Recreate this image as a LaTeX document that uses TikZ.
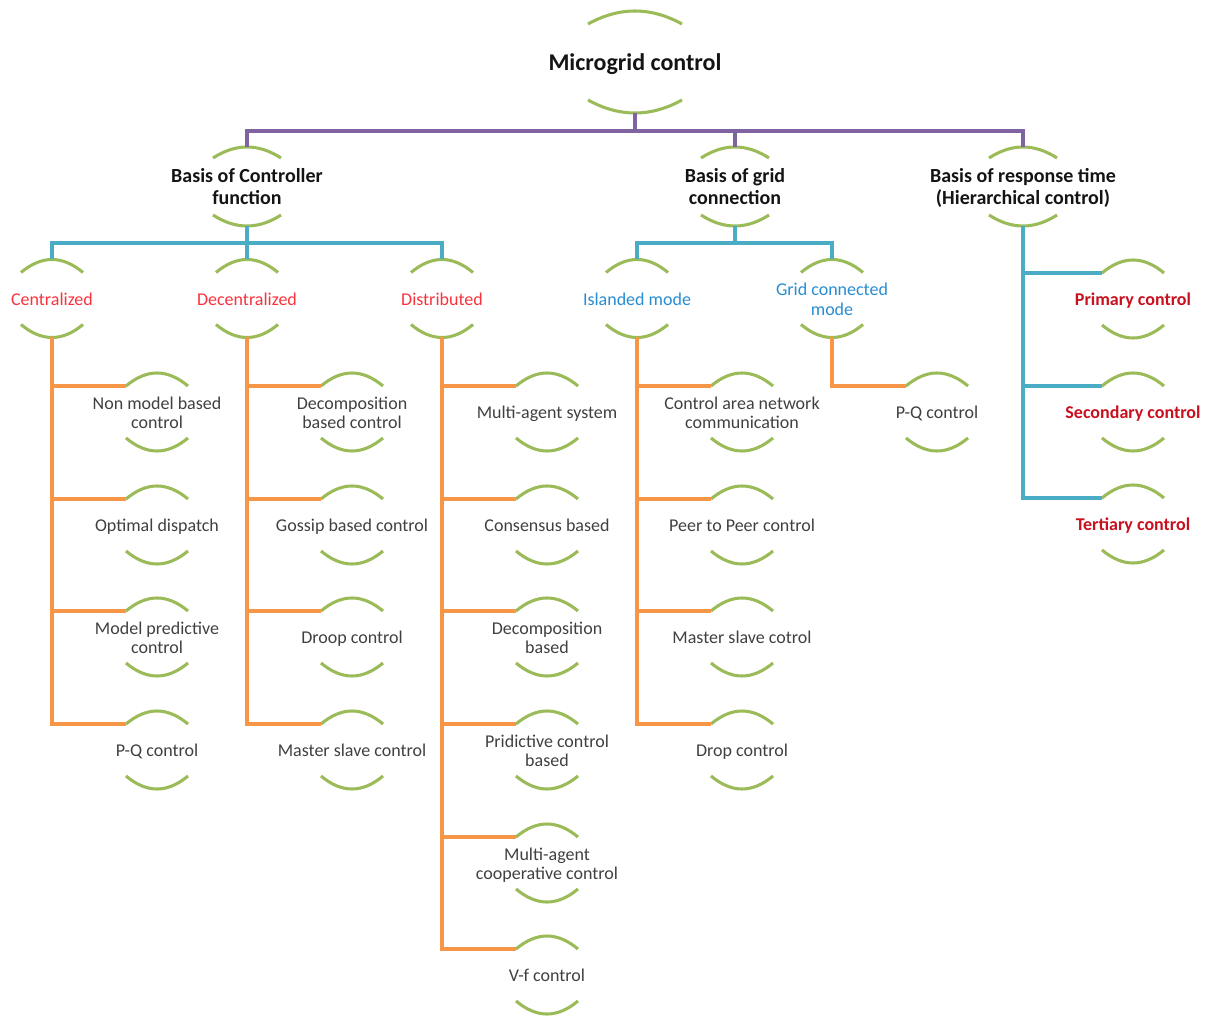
\documentclass[tikz,border=0pt]{standalone}
\usepackage{fontspec}
\setmainfont{Carlito}
\newdimen\pxu \pxu=0.75pt
\definecolor{purp}{RGB}{128,100,162}
\definecolor{bluel}{RGB}{75,172,198}
\definecolor{orng}{RGB}{247,150,70}
\definecolor{grn}{RGB}{155,187,89}
\definecolor{redt}{RGB}{250,50,60}
\definecolor{dredt}{RGB}{200,16,30}
\definecolor{bluet}{RGB}{40,140,210}
\definecolor{leafc}{RGB}{64,64,64}
\definecolor{headc}{RGB}{20,20,20}
\newcommand\ctr[1]{\makebox[0pt]{\raisebox{-3\pxu}[\height][\depth]{\begin{tabular}{@{}c@{}}#1\end{tabular}}}}
\newcommand\brk[4]{%
 \draw[arcst] ([shift={(-#2,-#3)}]#1.center) .. controls ([shift={({-#2/3},{-#3-4/3*(#4-#3)})}]#1.center) and ([shift={({#2/3},{-#3-4/3*(#4-#3)})}]#1.center) .. ([shift={(#2,-#3)}]#1.center);
 \draw[arcst] ([shift={(-#2,#3)}]#1.center) .. controls ([shift={({-#2/3},{#3+4/3*(#4-#3)})}]#1.center) and ([shift={({#2/3},{#3+4/3*(#4-#3)})}]#1.center) .. ([shift={(#2,#3)}]#1.center);
}
\tikzset{
 base/.style={shape=rectangle, inner sep=0pt, outer sep=0pt, minimum width=62\pxu, minimum height=78\pxu},
 leaf/.style={base, text=leafc, font=\fontsize{13.5}{14.5}\selectfont},
 lvlred/.style={base, text=redt, font=\fontsize{13.5}{14.5}\selectfont},
 lvlblue/.style={base, text=bluet, font=\fontsize{13.5}{14.5}\selectfont},
 hier/.style={base, text=dredt, font=\fontsize{13.5}{14.5}\bfseries\selectfont},
 head/.style={base, minimum width=68\pxu, minimum height=79\pxu, text=headc, font=\fontsize{15}{16.5}\bfseries\selectfont},
 rootst/.style={base, minimum width=94\pxu, minimum height=102\pxu, text=headc, font=\fontsize{18}{20}\bfseries\selectfont},
 arcst/.style={draw=grn, line width=2.3pt},
 purpl/.style={draw=purp, line width=2.3pt},
 bluln/.style={draw=bluel, line width=2.3pt},
 orln/.style={draw=orng, line width=2.3pt},
}
\begin{document}
\begin{tikzpicture}[x=0.75pt,y=-0.75pt]
\path[use as bounding box] (0,0) rectangle (1210,1019);
% nodes
\node[rootst] (root) at (635,62) {\ctr{Microgrid control}};
\node[head] (c1) at (247,186.5) {\ctr{Basis of Controller\\function}};
\node[head] (c2) at (735,186.5) {\ctr{Basis of grid\\connection}};
\node[head] (c3) at (1023,186.5) {\ctr{Basis of response time\\(Hierarchical control)}};
\node[lvlred] (cen) at (52,298.5) {\ctr{Centralized}};
\node[lvlred] (dec) at (247,298.5) {\ctr{Decentralized}};
\node[lvlred] (dis) at (442,298.5) {\ctr{Distributed}};
\node[lvlblue] (isl) at (637,298.5) {\ctr{Islanded mode}};
\node[lvlblue] (grc) at (832,298.5) {\ctr{Grid connected\\mode}};
\node[hier] (pri) at (1133,299) {\ctr{Primary control}};
\node[hier] (sec) at (1133,412) {\ctr{Secondary control}};
\node[hier] (ter) at (1133,524) {\ctr{Tertiary control}};
% centralized
\node[leaf] (a1) at (157,412) {\ctr{Non model based\\control}};
\node[leaf] (a2) at (157,525) {\ctr{Optimal dispatch}};
\node[leaf] (a3) at (157,637) {\ctr{Model predictive\\control}};
\node[leaf] (a4) at (157,750) {\ctr{P-Q control}};
% decentralized
\node[leaf] (b1) at (352,412) {\ctr{Decomposition\\based control}};
\node[leaf] (b2) at (352,525) {\ctr{Gossip based control}};
\node[leaf] (b3) at (352,637) {\ctr{Droop control}};
\node[leaf] (b4) at (352,750) {\ctr{Master slave control}};
% distributed
\node[leaf] (d1) at (547,412) {\ctr{Multi-agent system}};
\node[leaf] (d2) at (547,525) {\ctr{Consensus based}};
\node[leaf] (d3) at (547,637) {\ctr{Decomposition\\based}};
\node[leaf] (d4) at (547,750) {\ctr{Pridictive control\\based}};
\node[leaf] (d5) at (547,863) {\ctr{Multi-agent\\cooperative control}};
\node[leaf] (d6) at (547,975) {\ctr{V-f control}};
% islanded
\node[leaf] (e1) at (742,412) {\ctr{Control area network\\communication}};
\node[leaf] (e2) at (742,525) {\ctr{Peer to Peer control}};
\node[leaf] (e3) at (742,637) {\ctr{Master slave cotrol}};
\node[leaf] (e4) at (742,750) {\ctr{Drop control}};
% grid connected
\node[leaf] (f1) at (937,412) {\ctr{P-Q control}};
% arcs
\brk{root}{47}{38}{51}
\foreach \n in {c1,c2,c3} {\brk{\n}{34}{28.5}{39.5}}
\foreach \n in {cen,dec,dis,isl,grc,pri,sec,ter,a1,a2,a3,a4,b1,b2,b3,b4,d1,d2,d3,d4,d5,d6,e1,e2,e3,e4,f1} {\brk{\n}{31}{26}{39}}
% purple connectors
\draw[purpl] (root.south) -- ++(0,18) -| (c1.north);
\draw[purpl] (root.south) -- ++(0,18) -| (c2.north);
\draw[purpl] (root.south) -- ++(0,18) -| (c3.north);
% blue connectors
\foreach \n in {cen,dec,dis} {\draw[bluln] (c1.south) -- ++(0,17) -| (\n.north);}
\foreach \n in {isl,grc} {\draw[bluln] (c2.south) -- ++(0,17) -| (\n.north);}
\foreach \n in {pri,sec,ter} {\draw[bluln] (c3.south) |- ([shift={(0,13)}]\n.north west);}
% orange connectors
\foreach \n in {a1,a2,a3,a4} {\draw[orln] (cen.south) |- ([shift={(0,13)}]\n.north west);}
\foreach \n in {b1,b2,b3,b4} {\draw[orln] (dec.south) |- ([shift={(0,13)}]\n.north west);}
\foreach \n in {d1,d2,d3,d4,d5,d6} {\draw[orln] (dis.south) |- ([shift={(0,13)}]\n.north west);}
\foreach \n in {e1,e2,e3,e4} {\draw[orln] (isl.south) |- ([shift={(0,13)}]\n.north west);}
\draw[orln] (grc.south) |- ([shift={(0,13)}]f1.north west);
\end{tikzpicture}
\end{document}
